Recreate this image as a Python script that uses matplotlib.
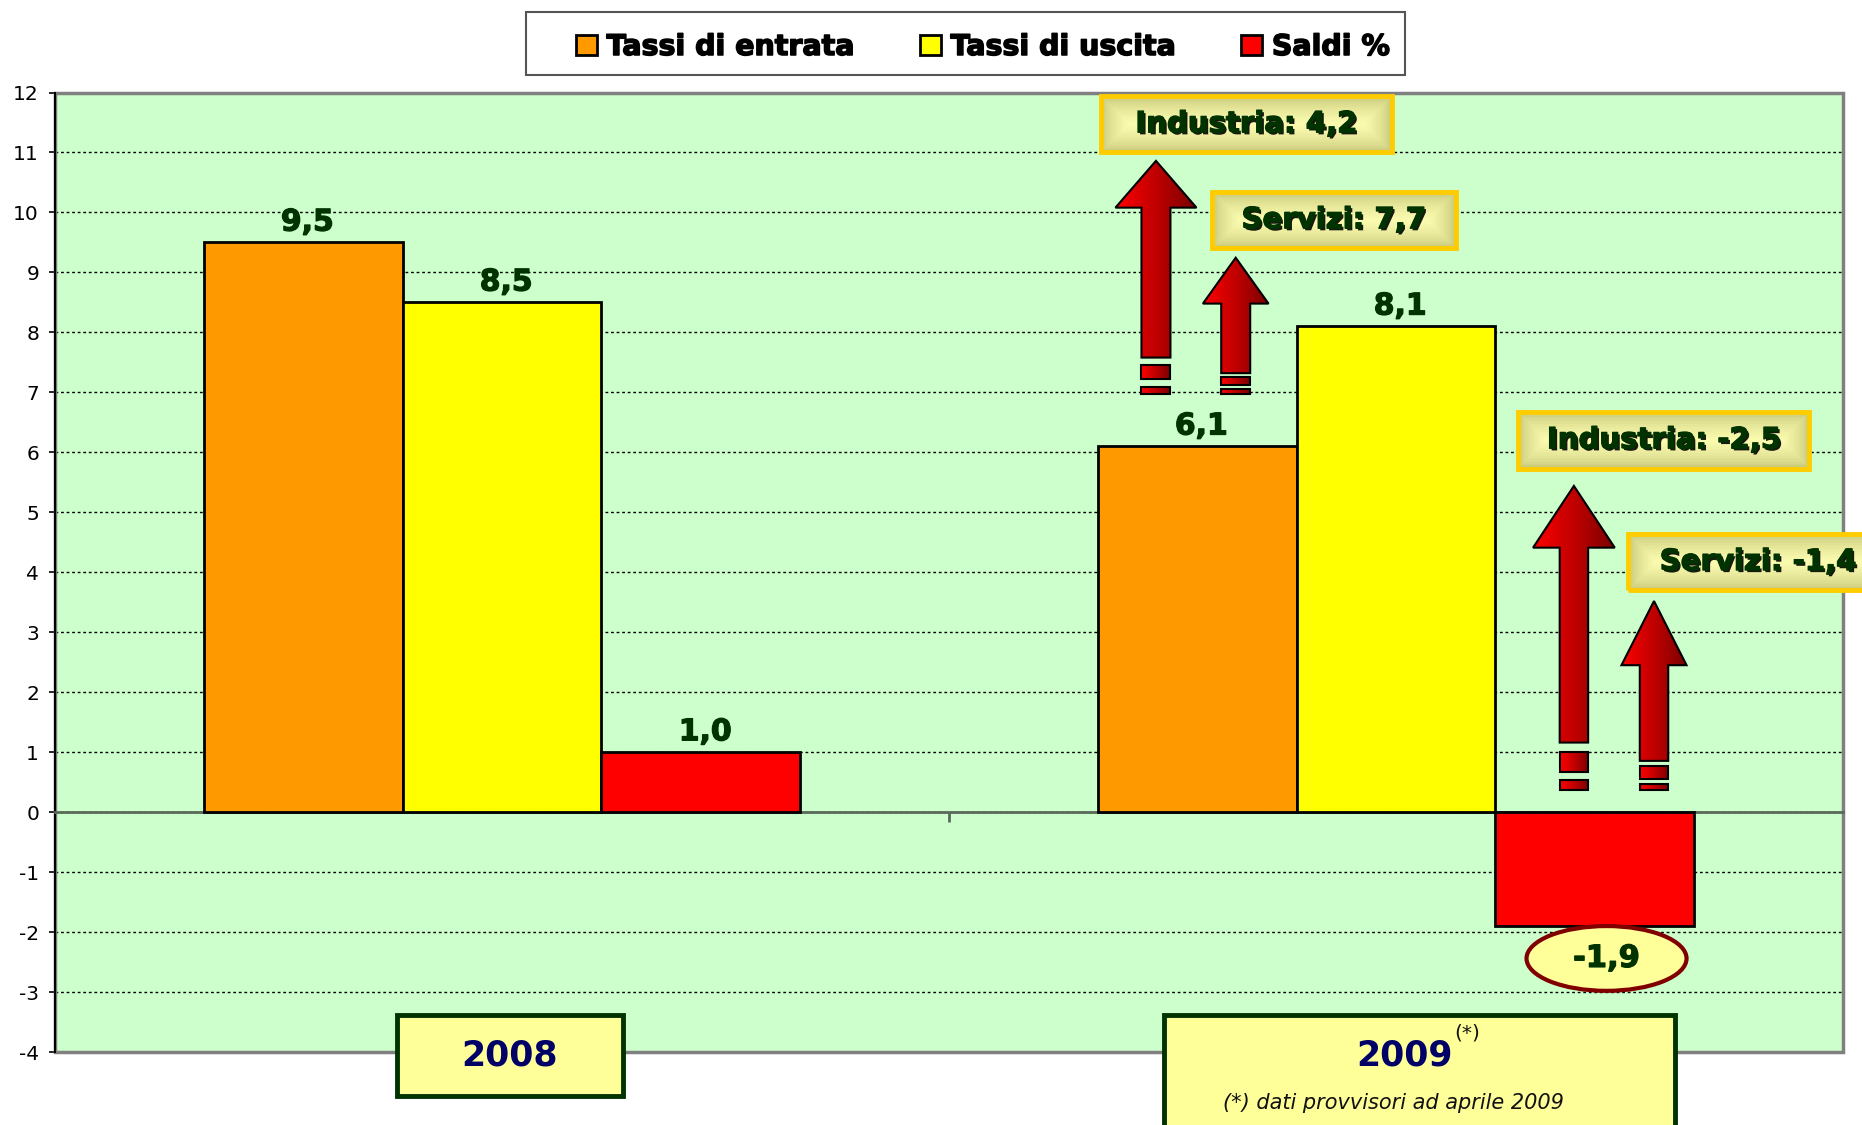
"""
Tassi di entrata, uscita e saldi % - confronto 2008 / 2009
"""

import numpy as np
import matplotlib.pyplot as plt
import matplotlib.patheffects as pe
from matplotlib.patches import Rectangle, Polygon, Ellipse
from matplotlib.colors import LinearSegmentedColormap, to_rgb

plt.rcParams['font.family'] = ['DejaVu Sans']
plt.rcParams['axes.unicode_minus'] = False

# Data
anni = ['2008', '2009']
tassi_entrata = [9.5, 6.1]
tassi_uscita = [8.5, 8.1]
saldi = [1.0, -1.9]
serie_nomi = ['Tassi di entrata', 'Tassi di uscita', 'Saldi %']

# Settori 2009
settori = ['Industria', 'Servizi']
entrata_settori_2009 = [4.2, 7.7]
saldi_settori_2009 = [-2.5, -1.4]
nota = '(*) dati provvisori ad aprile 2009'


def fmt(v):
    return f'{v:.1f}'.replace('.', ',')


def heavy(col, lw=0.9):
    # thicken DejaVu bold a little, closer to the Tahoma look
    return [pe.withStroke(linewidth=lw, foreground=col)]


W, H = 1862, 1125
fig = plt.figure(figsize=(W / 100, H / 100), dpi=100)
fig.patch.set_facecolor('white')
ax = fig.add_axes([55 / W, 1 - 1052 / H, (1843 - 55) / W, (1052 - 92.5) / H])
ax.set_facecolor('#CCFFCC')

# Bars
x = np.arange(len(anni))
w = 0.2225
colori = ['#FF9900', '#FFFF00', '#FF0000']
bars = []
for i, (vals, c, nome) in enumerate(zip([tassi_entrata, tassi_uscita, saldi], colori, serie_nomi)):
    b = ax.bar(x + (i - 1) * w, vals, w, color=c, edgecolor='black',
               linewidth=2, label=nome, zorder=3)
    bars.append(b)

verde_scuro = '#003300'
for b in bars:
    for r in b:
        v = r.get_height()
        cx = r.get_x() + r.get_width() / 2
        if v >= 0:
            ax.annotate(fmt(v), (cx, v), xytext=(3, 8.5), textcoords='offset points',
                        ha='center', va='baseline', fontsize=21.5, fontweight='bold',
                        color=verde_scuro, zorder=6, path_effects=heavy(verde_scuro))
        else:
            ell = Ellipse((cx + 0.013, v - 0.54), 0.179, 1.08, facecolor='#FFFF99',
                          edgecolor='#800000', lw=3, zorder=6)
            ax.add_patch(ell)
            ax.text(cx + 0.013, v - 0.54, fmt(v), ha='center', va='center',
                    fontsize=22, fontweight='bold', color=verde_scuro, zorder=7,
                    path_effects=heavy(verde_scuro))

# Axes styling
ax.set_xlim(-0.5, 1.5)
ax.set_ylim(-4, 12)
ax.set_yticks(range(-4, 13))
ax.set_axisbelow(True)
ax.yaxis.grid(True, linestyle=(0, (2, 2)), color='black', linewidth=1)
ax.tick_params(axis='y', length=4.5, width=1.2, labelsize=14.5, pad=7, direction='out')
ax.set_xticks([0.5])
ax.tick_params(axis='x', length=7, width=2, color='#5a6a5a', labelbottom=False,
               direction='out')
ax.spines['bottom'].set_position(('data', 0))
ax.spines['bottom'].set_color('#5a6a5a')
ax.spines['bottom'].set_linewidth(2)
ax.spines['top'].set_visible(False)
ax.spines['right'].set_visible(False)
ax.spines['left'].set_color('black')
ax.spines['left'].set_linewidth(1.5)
ax.add_patch(Rectangle((0, 0), 1, 1, transform=ax.transAxes, fill=False,
                       edgecolor='#808080', lw=2.5, zorder=2.4, clip_on=False))

# Legend with its own frame
fig.add_artist(Rectangle((526 / W, 1 - 75 / H), 879 / W, 63 / H, transform=fig.transFigure,
                         facecolor='white', edgecolor='#555555', lw=1.5, zorder=1))
leg = fig.legend(handles=bars, labels=serie_nomi, loc='center',
                 bbox_to_anchor=(983 / W, 1 - 47 / H), ncol=3, frameon=False,
                 prop=dict(size=20.5, weight='bold'), handlelength=0.72, handleheight=0.72,
                 handletextpad=0.35, columnspacing=2.3)
for t in leg.get_texts():
    t.set_path_effects(heavy('black', 1.1))

# Red gradient arrows
rosso = LinearSegmentedColormap.from_list('rosso', ['#FF0000', '#C00000', '#7A0000'])
grad = np.linspace(0, 1, 256).reshape(1, -1)


def gradient_shape(verts):
    poly = Polygon(verts, closed=True, facecolor='none', edgecolor='black', lw=1.5, zorder=5)
    ax.add_patch(poly)
    xs = [p[0] for p in verts]
    ys = [p[1] for p in verts]
    im = ax.imshow(grad, cmap=rosso, extent=(min(xs), max(xs), min(ys), max(ys)),
                   aspect='auto', origin='lower', interpolation='bilinear', zorder=4.9)
    im.set_clip_path(poly)


# x, shaft bottom, head base, tip, shaft half width, head half width, dashes
frecce = [
    (0.7315, 7.58, 10.08, 10.86, 0.0162, 0.0453, [(7.22, 7.45), (6.97, 7.09)]),
    (0.8207, 7.32, 8.48, 9.245, 0.0162, 0.0367, [(7.12, 7.26), (6.97, 7.05)]),
    (1.199, 1.16, 4.41, 5.44, 0.0159, 0.0457, [(0.67, 1.0), (0.37, 0.53)]),
    (1.2886, 0.855, 2.45, 3.52, 0.0159, 0.0364, [(0.56, 0.77), (0.37, 0.47)]),
]
for fx, y0, yh, yt, sw, hw, dashes in frecce:
    gradient_shape([(fx - sw, y0), (fx + sw, y0), (fx + sw, yh), (fx + hw, yh),
                    (fx, yt), (fx - hw, yh), (fx - sw, yh)])
    for d0, d1 in dashes:
        gradient_shape([(fx - sw, d0), (fx + sw, d0), (fx + sw, d1), (fx - sw, d1)])

# Sector label boxes
c_out = np.array(to_rgb('#C2C274'))
c_in = np.array(to_rgb('#FAFAAE'))


def etichetta(cx, cy, bw, bh, testo):
    n = 18
    max_px = 26
    for k in range(n):
        f = k / (n - 1)
        ix = f * max_px / 894
        iy = f * max_px / 60
        col = c_out + (c_in - c_out) * f ** 0.6
        ax.add_patch(Rectangle((cx - bw / 2 + ix, cy - bh / 2 + iy), bw - 2 * ix, bh - 2 * iy,
                               facecolor=col, edgecolor='none', zorder=6, clip_on=False))
    ax.add_patch(Rectangle((cx - bw / 2, cy - bh / 2), bw, bh, fill=False,
                           edgecolor='#FFCC00', lw=3.5, zorder=6.5, clip_on=False))
    ax.text(cx, cy, testo, ha='center', va='center', fontsize=21, fontweight='bold',
            color=verde_scuro, zorder=7, clip_on=False,
            path_effects=[pe.withSimplePatchShadow(offset=(1.5, -1.5),
                                                   shadow_rgbFace='black', alpha=0.9),
                          pe.withStroke(linewidth=0.9, foreground=verde_scuro)])


box_pos = [(0.8325, 11.47, 0.3255), (0.9306, 9.87, 0.2722),
           (1.2996, 6.2, 0.3255), (1.405, 4.17, 0.29)]
valori = entrata_settori_2009 + saldi_settori_2009
nomi = settori + settori
for (cx, cy, bw), nome, v in zip(box_pos, nomi, valori):
    etichetta(cx, cy, bw, 0.94, f'{nome}: {fmt(v)}')

# Year boxes
ax.add_patch(Rectangle((-0.118, -4.74), 0.253, 1.36, facecolor='#FFFF99',
                       edgecolor=verde_scuro, lw=3.5, zorder=6, clip_on=False))
ax.add_patch(Rectangle((0.7405, -5.6), 0.5715, 2.22, facecolor='#FFFF99',
                       edgecolor=verde_scuro, lw=3.5, zorder=6, clip_on=False))
ax.text(0.0086, -4.06, anni[0], ha='center', va='center', fontsize=25,
        fontweight='bold', color='#000066', zorder=7, clip_on=False)
t09 = ax.text(1.01, -4.06, anni[1], ha='center', va='center', fontsize=25,
              fontweight='bold', color='#000066', zorder=7, clip_on=False)
ax.annotate('(*)', xy=(1, 1), xycoords=t09, xytext=(1, 11), textcoords='offset points',
            ha='left', va='top', fontsize=14.5, color='#111111', zorder=7)
ax.text(0.997, -4.85, nota, ha='center', va='center', fontsize=15, style='italic',
        color='#111111', zorder=7, clip_on=False)

ax.set_xlim(-0.5, 1.5)
ax.set_ylim(-4, 12)

fig.savefig('out.png', dpi=100)
